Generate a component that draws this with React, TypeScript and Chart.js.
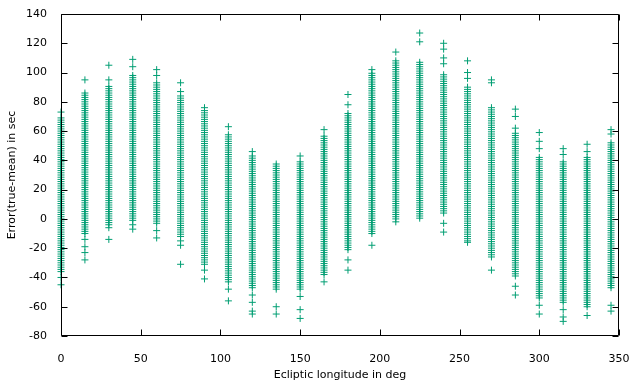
import { useEffect, useRef } from 'react';
import { Chart, registerables } from 'chart.js';

Chart.register(...registerables);

// Ecliptic longitude columns (deg)
const longitudes = [0, 15, 30, 45, 60, 75, 90, 105, 120, 135, 150, 165, 180, 195, 210, 225, 240, 255, 270, 285, 300, 315, 330, 345];
// Dense band of errors in each column (sec): upper and lower edge
const coreHigh = [70, 87, 91, 99, 93, 85, 74, 58, 44, 38, 40, 57, 72, 100, 108, 107, 99, 90, 76, 59, 43, 40, 43, 52];
const coreLow = [-36, -10, -4, -1, -3, -12, -31, -43, -47, -48, -48, -38, -21, -10, 0, 2, 4, -15, -26, -39, -54, -57, -60, -47];
// Resolution of the error values within a column (sec)
const sampleStep = 1.5;
// Isolated points above / below each band (sec)
const outliers = [
  [73, -40, -45],
  [95, -14, -19, -23, -28],
  [105, 95, -6, -14],
  [109, 104, -4, -7],
  [102, 98, -8, -13],
  [93, 87, -15, -18, -31],
  [76, -35, -41],
  [63, -48, -56],
  [46, -52, -57, -63, -65],
  [-60, -65],
  [43, -53, -62, -68],
  [61, -43],
  [85, 78, -28, -35],
  [102, -18],
  [114, -2],
  [127, 121, 0.5],
  [120, 116, 110, 106, -3, -9],
  [108, 100, 96, -16],
  [95, 93, -35],
  [75, 70, 62, -46, -52],
  [59, 53, 48, -59, -65],
  [48, 44, -62, -67, -70],
  [51, 46, -66],
  [61, 58, -59, -63],
];

const xTicks = [0, 50, 100, 150, 200, 250, 300, 350];
const yTicks = [-80, -60, -40, -20, 0, 20, 40, 60, 80, 100, 120, 140];

const FONT = 'DejaVu Sans';

export default function App() {
  const ref = useRef<HTMLCanvasElement>(null);

  useEffect(() => {
    document.body.style.margin = '0';
    const canvas = ref.current;
    if (!canvas) return;

    const points: { x: number; y: number }[] = [];
    longitudes.forEach((lon, i) => {
      for (let v = coreLow[i]; v <= coreHigh[i]; v += sampleStep) points.push({ x: lon, y: v });
      outliers[i].forEach((v) => points.push({ x: lon, y: v }));
    });

    const framePlugin = {
      id: 'frame',
      afterDraw(chart: any) {
        const { ctx, chartArea } = chart;
        const { left, right, top, bottom } = chartArea;
        const xs = chart.scales.x;
        const ys = chart.scales.y;
        const L = Math.round(left) + 0.5;
        const R = Math.round(right) - 0.5;
        const T = Math.round(top) + 0.5;
        const B = Math.round(bottom) - 0.5;
        const tl = 6;
        ctx.save();
        ctx.strokeStyle = '#000';
        ctx.lineWidth = 1;
        ctx.beginPath();
        ctx.rect(L, T, R - L, B - T);
        xTicks.forEach((v) => {
          const px = Math.round(xs.getPixelForValue(v)) + 0.5;
          ctx.moveTo(px, B);
          ctx.lineTo(px, B - tl);
          ctx.moveTo(px, T);
          ctx.lineTo(px, T + tl);
        });
        yTicks.forEach((v) => {
          const py = Math.round(ys.getPixelForValue(v)) + 0.5;
          ctx.moveTo(L, py);
          ctx.lineTo(L + tl, py);
          ctx.moveTo(R, py);
          ctx.lineTo(R - tl, py);
        });
        ctx.stroke();
        ctx.restore();
      },
    };

    const chart = new Chart(canvas, {
      type: 'scatter',
      data: {
        datasets: [
          {
            data: points,
            pointStyle: 'cross',
            pointRadius: 3.5,
            pointBorderWidth: 1,
            borderColor: '#009e73',
            backgroundColor: '#009e73',
            clip: false,
          } as any,
        ],
      },
      options: {
        responsive: false,
        animation: false,
        events: [],
        layout: { padding: { left: 0, right: 21, top: 14, bottom: 0 } },
        plugins: { legend: { display: false }, tooltip: { enabled: false } },
        scales: {
          x: {
            type: 'linear',
            min: 0,
            max: 350,
            grid: { display: false },
            border: { display: false },
            afterBuildTicks: (s: any) => {
              s.ticks = xTicks.map((v) => ({ value: v }));
            },
            afterFit: (s: any) => {
              s.height = 51;
            },
            ticks: { color: '#000', font: { family: FONT, size: 11 }, padding: 9, maxRotation: 0 },
            title: {
              display: true,
              text: 'Ecliptic longitude in deg',
              color: '#000',
              font: { family: FONT, size: 11 },
              padding: { top: 0, bottom: 5 },
            },
          },
          y: {
            type: 'linear',
            min: -80,
            max: 140,
            grid: { display: false },
            border: { display: false },
            afterBuildTicks: (s: any) => {
              s.ticks = yTicks.map((v) => ({ value: v }));
            },
            afterFit: (s: any) => {
              s.width = 61;
            },
            ticks: { color: '#000', font: { family: FONT, size: 11 }, padding: 6 },
            title: {
              display: true,
              text: 'Error(true-mean) in sec',
              color: '#000',
              font: { family: FONT, size: 11 },
              padding: { top: 6, bottom: 0 },
            },
          },
        },
      },
      plugins: [framePlugin],
    });

    return () => chart.destroy();
  }, []);

  return (
    <div style={{ width: 640, height: 387 }}>
      <canvas ref={ref} width={640} height={387} style={{ display: 'block' }} />
    </div>
  );
}
